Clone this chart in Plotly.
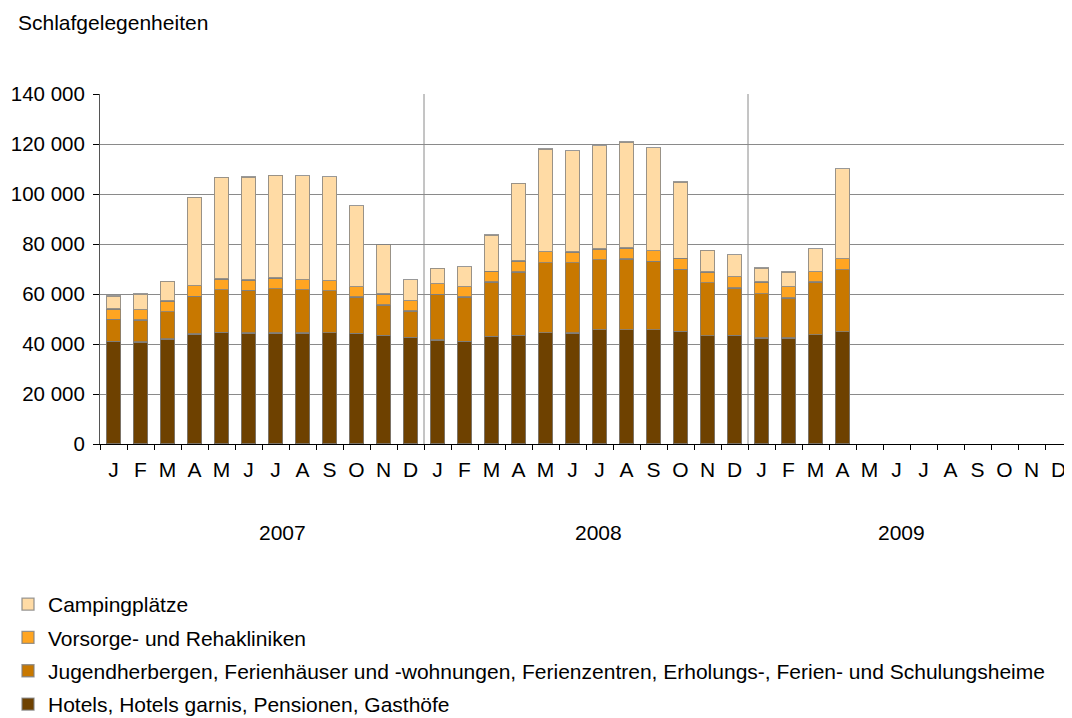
import plotly.graph_objects as go

months = ["J", "F", "M", "A", "M", "J", "J", "A", "S", "O", "N", "D"] * 3
years = ["2007", "2008", "2009"]

hotels = [41100, 40800, 42000, 44000, 44700, 44400, 44400, 44400, 44500, 44300, 43500, 42700,
          41600, 41100, 43100, 43500, 44500, 44400, 45700, 45700, 45700, 45100, 43300, 43500,
          42400, 42400, 43700, 44900] + [None] * 8
jugend = [8800, 8800, 10900, 15100, 17000, 17100, 17700, 17300, 16800, 14500, 12100, 10500,
          18300, 17700, 21700, 25300, 28000, 28100, 28000, 28300, 27400, 24800, 21200, 18900,
          17700, 16000, 21100, 24900] + [None] * 8
vorsorge = [4100, 4100, 4300, 4300, 4300, 4100, 4300, 4000, 4100, 4100, 4400, 4100,
            4300, 4100, 4300, 4400, 4400, 4300, 4300, 4400, 4300, 4400, 4300, 4500,
            4700, 4500, 4100, 4400] + [None] * 8
camping = [5200, 6300, 7900, 35300, 40700, 41200, 41100, 41700, 41500, 32400, 19700, 8500,
           6100, 8100, 14500, 31100, 41100, 40500, 41300, 42400, 41100, 30500, 8700, 8900,
           5600, 5900, 9300, 36000] + [None] * 8

series = [
    ("Hotels, Hotels garnis, Pensionen, Gasthöfe", hotels, "#6E4100"),
    ("Jugendherbergen, Ferienhäuser und -wohnungen, Ferienzentren, Erholungs-, Ferien- und Schulungsheime", jugend, "#C87800"),
    ("Vorsorge- und Rehakliniken", vorsorge, "#FFA521"),
    ("Campingplätze", camping, "#FFDBA5"),
]

x = list(range(len(months)))
FONT = "Liberation Sans, Arial, sans-serif"
FS = 21
W, H = 1064, 710  # page body adds an 8px offset

fig = go.Figure()
for i, (name, vals, col) in enumerate(series):
    fig.add_trace(go.Bar(
        x=x, y=vals, name=name, legendgroup=f"g{i}", legendrank=len(series) - i,
        marker=dict(color=col, line=dict(color="rgba(128,128,128,0.8)", width=1.3)),
        width=0.52,
    ))

# tick marks between categories via a second overlaid x axis
fig.add_trace(go.Scatter(x=[0], y=[None], xaxis="x2", showlegend=False, hoverinfo="skip"))

# year separators
n_per_year = 12
for k in range(1, len(years)):
    b = k * n_per_year - 0.5
    fig.add_shape(type="line", xref="x", yref="y", x0=b, x1=b, y0=0, y1=140000,
                  line=dict(color="#8a8a8a", width=1), layer="above")

# year labels
year_offsets = [0.75, 0.45, -0.3]
for k, yr in enumerate(years):
    cx = k * n_per_year + (n_per_year - 1) / 2 + year_offsets[k]
    fig.add_annotation(x=cx, xref="x", y=-0.254, yref="paper", text=yr, showarrow=False,
                       font=dict(size=FS, color="#000", family=FONT), yanchor="middle")

fig.update_layout(
    barmode="stack",
    width=W, height=H,
    margin=dict(l=92, r=0, t=86, b=H - 86 - 350, autoexpand=False),
    plot_bgcolor="white", paper_bgcolor="white",
    separators=", ",
    font=dict(family=FONT, size=FS, color="#000"),
    title=dict(text="Schlafgelegenheiten", xref="container", yref="container",
               x=10 / W, xanchor="left", y=1 - 15 / H, yanchor="middle",
               font=dict(size=FS, family=FONT, color="#000")),
    legend=dict(orientation="v", xref="container", yref="container",
                x=0.0, xanchor="left", y=1 - 576 / H, yanchor="top",
                traceorder="grouped", tracegroupgap=3,
                font=dict(size=FS, family=FONT, color="#000"),
                bgcolor="rgba(0,0,0,0)"),
    bargap=0.48,
    xaxis2=dict(
        overlaying="x", side="bottom", anchor="y",
        range=[-0.5, len(months) - 0.5], tickmode="array",
        tickvals=[i - 0.5 for i in range(len(months) + 1)], ticktext=[""] * (len(months) + 1),
        ticks="outside", ticklen=5, tickcolor="#000", tickwidth=1,
        showgrid=False, showline=False, zeroline=False,
    ),
)
fig.layout.xaxis.update(
    tickmode="array", tickvals=x, ticktext=months,
    range=[-0.5, len(months) - 0.5],
    showgrid=False, ticks="", showline=True, linecolor="#000", linewidth=1,
    ticklabelstandoff=7,
    tickfont=dict(size=FS, family=FONT, color="#000"),
)

fig.update_yaxes(
    range=[0, 140000], tickmode="linear", tick0=0, dtick=20000,
    tickformat=",d", showgrid=True, gridcolor="#8a8a8a", gridwidth=1,
    showline=True, linecolor="#555", linewidth=1,
    ticks="outside", ticklen=6, tickcolor="#000",
    ticklabelstandoff=4,
    zeroline=False, tickfont=dict(size=20.5, family=FONT, color="#000"),
)

fig.write_html("out.html")
